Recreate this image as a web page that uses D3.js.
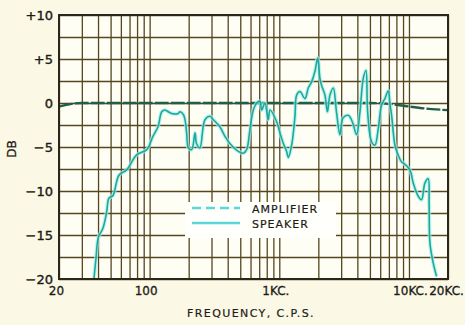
<!DOCTYPE html>
<html>
<head>
<meta charset="utf-8">
<script src="https://cdn.jsdelivr.net/npm/d3@7"></script>
<style>
  html, body { margin: 0; padding: 0; background: #fbf9e6; }
  svg { display: block; }
  text { font-family: "DejaVu Sans", sans-serif; fill: #1d1b16; }
</style>
</head>
<body>
<main></main>
<script>
// values
const dbTicks = [10, 5, 0, -5, -10, -15, -20];
const dbGrid = [10, 7.5, 5, 2.5, 0, -2.5, -5, -7.5, -10, -12.5, -15, -17.5, -20];
const freqTicks = [20, 100, 1000, 10000, 20000];
const freqLabels = ['20', '100', '1KC.', '10KC.', '20KC.'];
const freqGrid = [20, 30, 40, 50, 60, 70, 80, 90, 100, 200, 300, 400, 500, 600, 700, 800, 900,
    1000, 2000, 3000, 4000, 5000, 6000, 7000, 8000, 9000, 10000, 20000];

const ampFreq = [20, 25, 30, 100, 1000, 5000, 8000, 10000, 15000, 20000];
const ampDb = [-0.4, -0.1, 0, 0, 0, 0, -0.2, -0.4, -0.7, -0.8];

const spkFreq = [37.2, 38.6, 40.2, 43.7, 46.6, 48.6, 52.2, 58, 66.5, 79.4, 95, 106, 116, 124, 131, 148, 166,
    171, 182, 188, 193, 199, 211, 224, 230, 244, 267, 292, 310, 348, 381, 416, 483, 528, 560, 594, 630,
    669, 709, 731, 775, 822, 848, 953, 1012, 1074, 1139, 1173, 1245, 1321, 1361, 1443, 1578, 1672, 1775,
    1884, 1977, 2057, 2118, 2249, 2350, 2460, 2609, 2760, 2933, 3100, 3404, 3650, 3946, 4188, 4441, 4659,
    4800, 5144, 5460, 5800, 6152, 6527, 6921, 7150, 7350, 7796, 8250, 8774, 9028, 10170, 10790, 11800,
    12500, 13270, 14080, 14300, 14510, 15390, 16330];
const spkDb = [-20, -17.6, -15.3, -14.2, -12.4, -10.8, -10.5, -8.2, -7.6, -5.9, -5.3, -3.8, -2.7, -1.0, -0.8, -1.2, -1.2,
    -1.0, -1.3, -2.0, -3.4, -5.1, -5.3, -3.4, -4.6, -5.1, -1.9, -1.5, -1.9, -2.7, -3.8, -4.6, -5.5, -5.7, -5.3, -3.0, -0.8,
    0, 0.2, -0.8, 0, -1.9, -0.8, -2.1, -3.4, -4.6, -5.5, -6.2, -4.8, -1.5, 0.9, 1.3, 0.5, 1.7, 2.4,
    3.6, 5.1, 2.8, 2.0, 0.9, -1.0, 0.9, 1.7, -1.0, -3.6, -1.7, -1.4, -2.1, -3.6, -1.0, 2.8, 3.7,
    -1.0, -4.4, -4.8, -2.9, -0.2, 0.5, 1.4, -0.2, -1.4, -4.8, -5.9, -6.7, -6.8, -7.6, -9.1, -10.6,
    -11.0, -9.1, -8.6, -11.5, -15.9, -18.2, -19.7];

const legendItems = ['AMPLIFIER', 'SPEAKER'];

const w = 465;
const h = 325;
const pL = 59, pR = 448, pT = 15, pB = 279;

const svg = d3.select('main').append('svg').attr('width', w).attr('height', h);

const xScale = d3.scaleLog().domain([20, 20000]).range([pL, pR]);
const yScale = d3.scaleLinear().domain([-20, 10]).range([pB, pT]);

svg.append('rect')
    .attr('x', pL).attr('y', pT)
    .attr('width', pR - pL).attr('height', pB - pT)
    .attr('fill', '#fffef5');

// grid
svg.append('g')
    .attr('transform', `translate(0, ${pB})`)
    .call(d3.axisBottom(xScale).tickValues(freqGrid).tickSize(-(pB - pT)).tickFormat(''))
    .call(g => g.select('.domain').remove())
    .call(g => g.selectAll('line').attr('stroke', '#54461f').attr('stroke-width', 1.3));
svg.append('g')
    .attr('transform', `translate(${pL}, 0)`)
    .call(d3.axisLeft(yScale).tickValues(dbGrid).tickSize(-(pR - pL)).tickFormat(''))
    .call(g => g.select('.domain').remove())
    .call(g => g.selectAll('line').attr('stroke', '#54461f').attr('stroke-width', 1.3));

// legend box hides the grid under it
svg.append('rect')
    .attr('x', 185).attr('y', 202).attr('width', 151).attr('height', 36)
    .attr('fill', '#fffffb');

const line = d3.line()
    .x(d => xScale(d[0]))
    .y(d => yScale(d[1]));

const ampData = ampFreq.map((f, i) => [f, ampDb[i]]);
const spkData = spkFreq.map((f, i) => [f, spkDb[i]]);

svg.append('path')
    .datum(ampData)
    .attr('d', line.curve(d3.curveMonotoneX))
    .attr('fill', 'none')
    .attr('stroke', '#1f5e48')
    .attr('stroke-width', 2.3)
    .attr('stroke-dasharray', '14,2');

line.curve(d3.curveCatmullRom.alpha(0.5));
svg.append('path')
    .datum(spkData)
    .attr('d', line)
    .attr('fill', 'none')
    .attr('stroke', '#a6efea')
    .attr('stroke-width', 4)
    .attr('stroke-opacity', 0.7)
    .attr('stroke-linejoin', 'round');
svg.append('path')
    .datum(spkData)
    .attr('d', line)
    .attr('fill', 'none')
    .attr('stroke', '#1ba89e')
    .attr('stroke-width', 1.6)
    .attr('stroke-linejoin', 'round');

// frame
svg.append('rect')
    .attr('x', pL).attr('y', pT)
    .attr('width', pR - pL).attr('height', pB - pT)
    .attr('fill', 'none')
    .attr('stroke', '#2a2619')
    .attr('stroke-width', 2);

// axes labels
svg.append('g')
    .attr('transform', `translate(${pL}, 0)`)
    .call(d3.axisLeft(yScale).tickValues(dbTicks).tickSize(0).tickPadding(6)
        .tickFormat(d => d > 0 ? '+' + d : d < 0 ? '\u2212' + (-d) : '0'))
    .call(g => g.select('.domain').remove())
    .call(g => g.selectAll('text')
        .attr('font-size', 13)
        .attr('font-family', '"DejaVu Sans", sans-serif')
        .attr('fill', '#1d1b16')
        .attr('stroke', '#1d1b16')
        .attr('stroke-width', 0.4));

const xOffsets = [-3, -4, -4, 1, -2];
svg.append('g')
    .attr('transform', `translate(0, ${pB})`)
    .call(d3.axisBottom(xScale).tickValues(freqTicks).tickSize(0).tickPadding(7)
        .tickFormat((d, i) => freqLabels[i]))
    .call(g => g.select('.domain').remove())
    .call(g => g.selectAll('text')
        .attr('font-size', 12)
        .attr('font-family', '"DejaVu Sans", sans-serif')
        .attr('fill', '#1d1b16')
        .attr('stroke', '#1d1b16')
        .attr('stroke-width', 0.3)
        .attr('dx', (d, i) => xOffsets[i]));

svg.append('text')
    .attr('transform', 'translate(16, 149) rotate(-90)')
    .attr('text-anchor', 'middle')
    .attr('font-size', 12)
    .attr('stroke', '#1d1b16')
    .attr('stroke-width', 0.3)
    .text('DB');

svg.append('text')
    .attr('x', 251).attr('y', 317)
    .attr('text-anchor', 'middle')
    .attr('font-size', 11)
    .attr('letter-spacing', 1.4)
    .attr('stroke', '#1d1b16')
    .attr('stroke-width', 0.2)
    .text('FREQUENCY, C.P.S.');

// legend
const legend = svg.append('g');
legend.append('line')
    .attr('x1', 192).attr('x2', 240).attr('y1', 208).attr('y2', 208)
    .attr('stroke', '#5bd8d6').attr('stroke-width', 2.5).attr('stroke-dasharray', '9,5');
legend.append('line')
    .attr('x1', 192).attr('x2', 240).attr('y1', 223).attr('y2', 223)
    .attr('stroke', '#5bd8d6').attr('stroke-width', 2.5);
legend.selectAll('text.item').data(legendItems).enter().append('text')
    .attr('class', 'item')
    .attr('x', 252)
    .attr('y', (d, i) => 213 + i * 15)
    .attr('font-size', 11)
    .attr('letter-spacing', 1)
    .attr('stroke', '#1d1b16')
    .attr('stroke-width', 0.2)
    .text(d => d);
</script>
</body>
</html>
